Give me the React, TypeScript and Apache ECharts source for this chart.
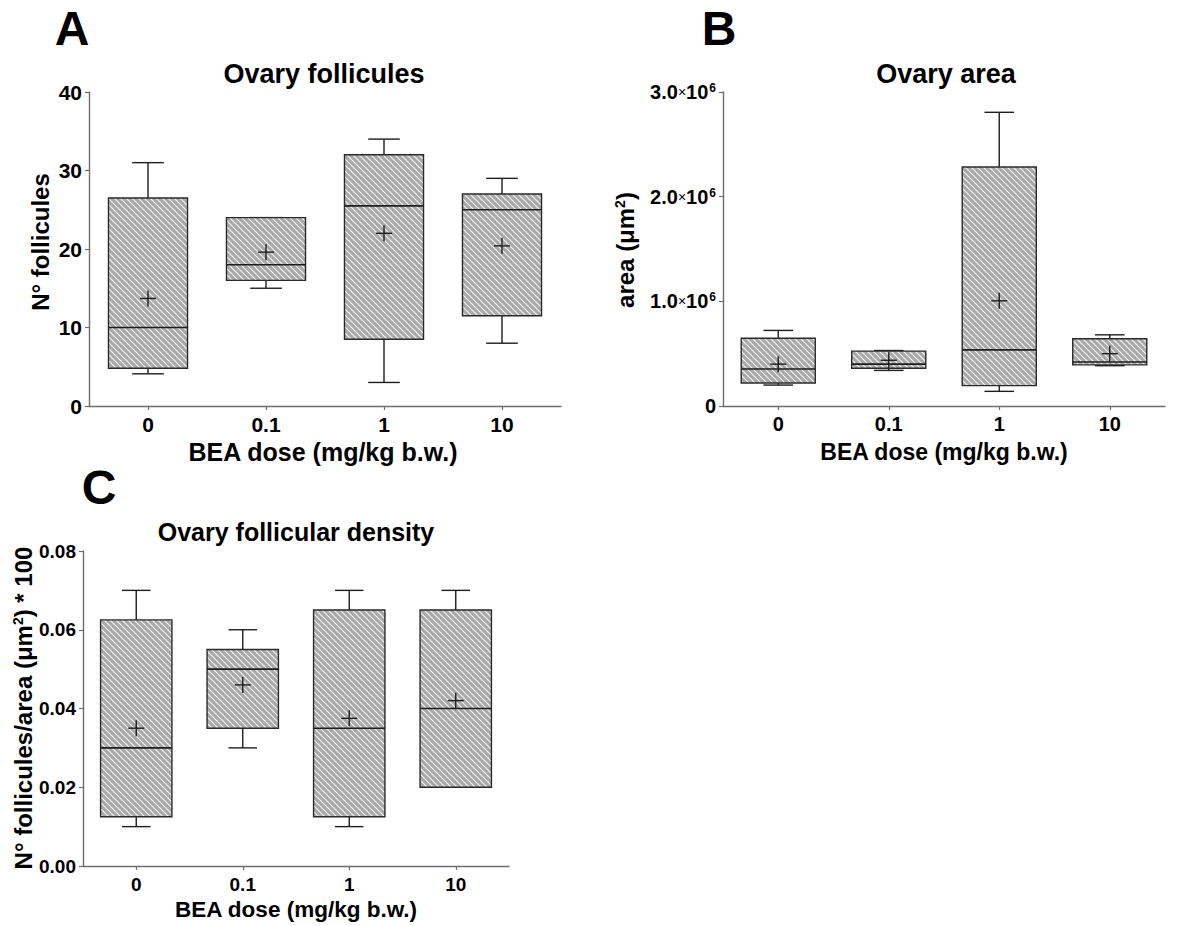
import React, { useEffect, useRef } from 'react';
import * as echarts from 'echarts';

// ---------- Data ----------
const doses = ['0', '0.1', '1', '10'];

// Panel A: Ovary follicules (N°)
const follMin = [4.1, 15, 3, 8];
const follQ1 = [4.8, 16, 8.5, 11.5];
const follMed = [10, 18, 25.5, 25];
const follQ3 = [26.5, 24, 32, 27];
const follMax = [31, 24, 34, 29];
const follMean = [13.7, 19.6, 22, 20.4];
const follTicks = { min: 0, max: 40, interval: 10 };

// Panel B: Ovary area (µm²)
const areaMin = [200000, 340000, 140000, 385000];
const areaQ1 = [220000, 360000, 195000, 393000];
const areaMed = [354000, 400000, 536000, 420000];
const areaQ3 = [648000, 524000, 2283000, 642000];
const areaMax = [722000, 530000, 2806000, 680000];
const areaMean = [400000, 437000, 1005000, 500000];
const areaTicks = { min: 0, max: 3000000, interval: 1000000 };

// Panel C: Ovary follicular density
const densMin = [0.01, 0.03, 0.01, 0.02];
const densQ1 = [0.0125, 0.035, 0.0125, 0.02];
const densMed = [0.03, 0.05, 0.035, 0.04];
const densQ3 = [0.0625, 0.055, 0.065, 0.065];
const densMax = [0.07, 0.06, 0.07, 0.07];
const densMean = [0.035, 0.046, 0.0375, 0.042];
const densTicks = { min: 0, max: 0.08, interval: 0.02 };

const FONT = "'Liberation Sans', Arial, Helvetica, sans-serif";
const AXIS_COLOR = '#6e6e6e';
const INK = '#1e1e1e';

function makeHatch(): string {
  const c = document.createElement('canvas');
  c.width = 6;
  c.height = 6;
  const g = c.getContext('2d');
  if (!g) return '';
  g.fillStyle = '#a8a8a8';
  g.fillRect(0, 0, 6, 6);
  g.strokeStyle = '#f4f4f4';
  g.lineWidth = 1.2;
  g.beginPath();
  g.moveTo(-1, -1);
  g.lineTo(7, 7);
  g.moveTo(-1, 5);
  g.lineTo(1, 7);
  g.moveTo(5, -1);
  g.lineTo(7, 1);
  g.stroke();
  return c.toDataURL();
}

function boxSeries(
  mins: number[], q1s: number[], meds: number[], q3s: number[], maxs: number[], means: number[],
  axisIndex: number, hatch: string
) {
  return {
    type: 'custom',
    xAxisIndex: axisIndex,
    yAxisIndex: axisIndex,
    data: doses.map((_, i) => [i, mins[i], q1s[i], meds[i], q3s[i], maxs[i], means[i]]),
    encode: { x: 0, y: [1, 2, 3, 4, 5, 6] },
    renderItem: (params: any, api: any) => {
      const idx = api.value(0);
      const pt = (v: number) => api.coord([idx, v]);
      const band = api.size([1, 0])[0];
      const bw = band * 0.67;
      const cw = bw * 0.4;
      const mh = 8;
      const cx = pt(api.value(3))[0];
      const yMin = pt(api.value(1))[1];
      const yQ1 = pt(api.value(2))[1];
      const yMed = pt(api.value(3))[1];
      const yQ3 = pt(api.value(4))[1];
      const yMax = pt(api.value(5))[1];
      const yMean = pt(api.value(6))[1];
      const ls = { stroke: INK, lineWidth: 1.4 };
      const line = (x1: number, y1: number, x2: number, y2: number, style: any = ls) => ({
        type: 'line',
        shape: { x1, y1, x2, y2 },
        style,
      });
      return {
        type: 'group',
        children: [
          line(cx, yMax, cx, yQ3),
          line(cx - cw / 2, yMax, cx + cw / 2, yMax),
          line(cx, yQ1, cx, yMin),
          line(cx - cw / 2, yMin, cx + cw / 2, yMin),
          {
            type: 'rect',
            shape: { x: cx - bw / 2, y: yQ3, width: bw, height: yQ1 - yQ3 },
            style: {
              fill: { image: hatch, repeat: 'repeat', imageWidth: 6, imageHeight: 6 },
              stroke: '#2a2a2a',
              lineWidth: 1.4,
            },
          },
          line(cx - bw / 2, yMed, cx + bw / 2, yMed, { stroke: INK, lineWidth: 1.6 }),
          line(cx - mh, yMean, cx + mh, yMean),
          line(cx, yMean - mh, cx, yMean + mh),
        ],
      };
    },
  };
}

function xAxisCfg(gridIndex: number, fontSize: number, margin: number) {
  return {
    type: 'category',
    gridIndex,
    data: doses,
    boundaryGap: true,
    axisLine: { show: true, lineStyle: { color: AXIS_COLOR, width: 1.4 } },
    axisTick: { show: true, alignWithLabel: true, length: 4, lineStyle: { color: AXIS_COLOR, width: 1.2 } },
    axisLabel: { fontFamily: FONT, fontWeight: 'bold', fontSize, color: '#000', margin },
    splitLine: { show: false },
  };
}

function yAxisCfg(gridIndex: number, ticks: { min: number; max: number; interval: number }, fontSize: number, formatter: any, rich?: any) {
  return {
    type: 'value',
    gridIndex,
    min: ticks.min,
    max: ticks.max,
    interval: ticks.interval,
    axisLine: { show: true, lineStyle: { color: AXIS_COLOR, width: 1.4 } },
    axisTick: { show: true, length: 4, lineStyle: { color: AXIS_COLOR, width: 1.2 } },
    axisLabel: { fontFamily: FONT, fontWeight: 'bold', fontSize, color: '#000', margin: 7, formatter, rich },
    splitLine: { show: false },
  };
}

function txt(x: number, y: number, text: string, size: number, rotation = 0, rich?: any) {
  return {
    type: 'text',
    x,
    y,
    rotation,
    silent: true,
    style: {
      text,
      fontFamily: FONT,
      fontWeight: 'bold',
      fontSize: size,
      fill: '#000',
      align: 'center',
      verticalAlign: 'middle',
      rich,
    },
  };
}

export default function App() {
  const ref = useRef<HTMLDivElement>(null);

  useEffect(() => {
    document.body.style.margin = '0';
    if (!ref.current) return;
    const chart = echarts.init(ref.current, undefined, { renderer: 'svg' });
    const hatch = makeHatch();

    const supRich = (size: number) => ({
      n: { fontFamily: FONT, fontWeight: 'bold', fontSize: size, fill: '#000' },
      s: { fontFamily: FONT, fontWeight: 'bold', fontSize: Math.round(size * 0.6), verticalAlign: 'top', fill: '#000' },
    });

    const areaRich = {
      m: { fontFamily: FONT, fontWeight: 'bold', fontSize: 20, color: '#000' },
      x: { fontFamily: FONT, fontWeight: 'normal', fontSize: 14, color: '#000', padding: [0, 0, 0, 0] },
      s: { fontFamily: FONT, fontWeight: 'bold', fontSize: 12, color: '#000', verticalAlign: 'top', padding: [0, 0, 8, 1] },
    };

    const option: any = {
      animation: false,
      backgroundColor: '#ffffff',
      grid: [
        { left: 89, top: 92, width: 472, height: 314 },
        { left: 723, top: 92, width: 442, height: 314 },
        { left: 83, top: 551, width: 426, height: 315 },
      ],
      xAxis: [xAxisCfg(0, 21, 8), xAxisCfg(1, 20, 8), xAxisCfg(2, 19, 9)],
      yAxis: [
        yAxisCfg(0, follTicks, 21, (v: number) => String(v)),
        yAxisCfg(
          1,
          areaTicks,
          20,
          (v: number) => (v === 0 ? '{m|0}' : `{m|${(v / 1e6).toFixed(1)}}{x|×}{m|10}{s|6}`),
          areaRich
        ),
        yAxisCfg(2, densTicks, 19, (v: number) => v.toFixed(2)),
      ],
      series: [
        boxSeries(follMin, follQ1, follMed, follQ3, follMax, follMean, 0, hatch),
        boxSeries(areaMin, areaQ1, areaMed, areaQ3, areaMax, areaMean, 1, hatch),
        boxSeries(densMin, densQ1, densMed, densQ3, densMax, densMean, 2, hatch),
      ],
      graphic: [
        // panel letters
        txt(72, 28, 'A', 48),
        txt(719, 28, 'B', 48),
        txt(99, 487, 'C', 48),
        // titles
        txt(324, 74, 'Ovary follicules', 27),
        txt(946, 74, 'Ovary area', 27),
        txt(296, 532, 'Ovary follicular density', 25),
        // x-axis names
        txt(323, 452, 'BEA dose (mg/kg b.w.)', 25),
        txt(944, 452, 'BEA dose (mg/kg b.w.)', 23),
        txt(296, 909, 'BEA dose (mg/kg b.w.)', 22.5),
        // y-axis names
        txt(40, 242, 'N° follicules', 24, Math.PI / 2),
        txt(625, 250, '{n|area (μm}{s|2}{n|)}', 24, Math.PI / 2, supRich(24)),
        txt(23, 708, '{n|N° follicules/area (μm}{s|2}{n|) * 100}', 24, Math.PI / 2, supRich(24)),
      ],
    };

    chart.setOption(option);
    return () => {
      chart.dispose();
    };
  }, []);

  return <div ref={ref} style={{ width: 1198, height: 926 }} />;
}
